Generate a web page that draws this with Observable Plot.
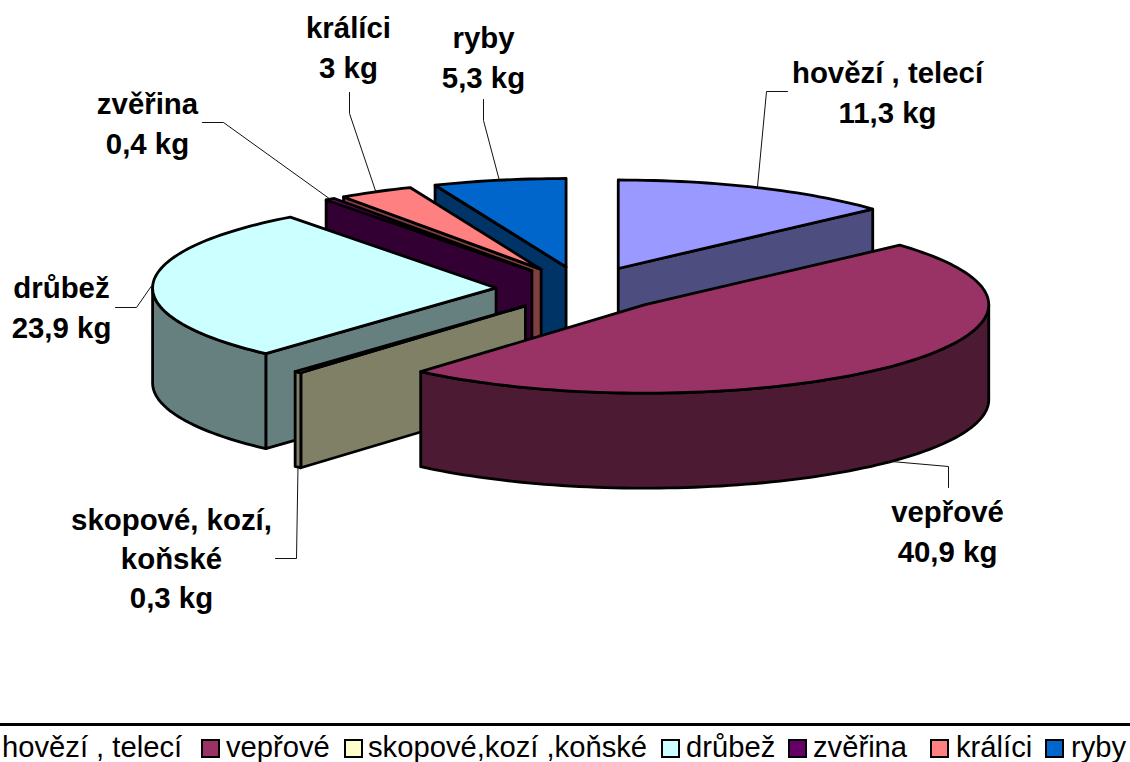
<!DOCTYPE html>
<html lang="cs">
<head>
<meta charset="utf-8">
<script src="https://cdn.jsdelivr.net/npm/d3@7"></script>
<script src="https://cdn.jsdelivr.net/npm/@observablehq/plot@0.6"></script>
<style>
html,body{margin:0;padding:0;background:#fff;overflow:hidden}
#wrap{width:1130px;height:762px;overflow:hidden}
svg{display:block}
#legend{position:relative;width:1130px;height:42px;overflow:hidden;font:29.2px "Liberation Sans",Arial,sans-serif;color:#000}
#legend .rule{position:absolute;left:0;top:3px;width:1130px;height:3px;background:#000}
#legend .sw{position:absolute;top:19px;width:15px;height:15px;border:2.5px solid #000;box-sizing:content-box}
#legend .tx{position:absolute;top:12px;line-height:30px;white-space:nowrap}
</style>
</head>
<body>
<div id="wrap"></div>
<script>
const categories = ["hovězí , telecí","vepřové","skopové,kozí ,koňské","drůbež","zvěřina","králíci","ryby"];
const values = [11.3,40.9,0.3,23.9,0.4,3,5.3];
const labels = ["hovězí , telecí\n11,3 kg","vepřové\n40,9 kg","skopové, kozí,\nkoňské\n0,3 kg","drůbež\n23,9 kg","zvěřina\n0,4 kg","králíci\n3 kg","ryby\n5,3 kg"];
const topColors = ["#9999FF","#993366","#FFFFCC","#CCFFFF","#660066","#FF8080","#0066CC"];
const sideColors = ["#4D4D80","#4D1A33","#808066","#668080","#330033","#804040","#003366"];

// pie layout
const W = 1130, H = 720;
const centre = [582.5, 288.5], rx = 343.5, ry = 88.5, depth = 95, explode = 87;
const paintOrder = [0,6,5,4,3,2,1];
const labelAt = [[887,90],[947,529],[171,556],[61,305],[147,121],[348,45],[483,55]];
const leaderBends = [
  [[766,91],[787,91]],
  [[948,466],[948,487]],
  [[296,558],[275,558]],
  [[136,307],[115,307]],
  [[223,122],[202,122]],
  [[349,113],[349,92]],
  [[483,120],[483,99]]
];
const legendSwatchX = [null,201,344,661,788,930,1045];
const legendTextX = [2,226,368,686,813,956,1071];

const rad = d => d * Math.PI / 180;
const total = d3.sum(values);
let acc = 0;
const slices = values.map((v,i) => {
  const a0 = acc / total * 360; acc += v;
  const a1 = acc / total * 360, mid = (a0 + a1) / 2;
  const ax = centre[0] + explode * Math.sin(rad(mid));
  const ay = centre[1] - explode * Math.cos(rad(mid)) * ry / rx;
  const at = (a, dz = 0) => ({x: ax + rx * Math.sin(rad(a)), y: ay - ry * Math.cos(rad(a)) + dz});
  const arc = (s, e, dz = 0) => { const n = Math.max(2, Math.ceil((e - s) / 1.5)); return d3.range(n + 1).map(k => at(s + (e - s) * k / n, dz)); };
  return {i, a0, a1, mid, apex: {x: ax, y: ay}, at, arc};
});

const marks = [];
const poly = (pts, fill) => marks.push(Plot.line(pts, {x:"x", y:"y", fill, stroke:"#000", strokeWidth:2.8, strokeLinejoin:"round", curve:"linear-closed"}));
for (const i of paintOrder) {
  const s = slices[i], side = sideColors[i], A = s.apex, Ad = {x:A.x, y:A.y+depth};
  if (Math.sin(rad(s.a0)) < 0) poly([A, s.at(s.a0), s.at(s.a0,depth), Ad], side);
  if (Math.sin(rad(s.a1)) > 0) poly([A, s.at(s.a1), s.at(s.a1,depth), Ad], side);
  const f = Math.max(s.a0, 90), t = Math.min(s.a1, 270);
  if (t > f) poly([...s.arc(f,t), ...s.arc(f,t,depth).reverse()], side);
  poly([A, ...s.arc(s.a0, s.a1)], topColors[i]);
}

// leader lines start on the slice's outer edge at its middle angle
slices.forEach((s,i) => {
  const front = s.mid > 90 && s.mid < 270;
  const start = s.at(s.mid, front ? depth : 0);
  const pts = [start, ...leaderBends[i].map(([x,y]) => ({x,y}))];
  marks.push(Plot.line(pts, {x:"x", y:"y", stroke:"#111", strokeWidth:1}));
});

marks.push(Plot.text(labels, {
  x: (d,i) => labelAt[i][0], y: (d,i) => labelAt[i][1], text: d => d,
  fontSize: 29.4, fontWeight: "bold", fontFamily: "'Liberation Sans', Arial, sans-serif",
  fill: "#000", lineHeight: 1.33, textAnchor: "middle", lineAnchor: "middle"
}));

const chart = Plot.plot({
  width: W, height: H, margin: 0,
  x: {domain: [0, W], range: [0, W], axis: null},
  y: {domain: [0, H], range: [0, H], axis: null},
  marks
});
const wrap = document.getElementById("wrap");
wrap.appendChild(chart);

const legend = document.createElement("div");
legend.id = "legend";
legend.innerHTML = '<div class="rule"></div>' + categories.map((c,i) =>
  (legendSwatchX[i] == null ? "" : `<span class="sw" style="left:${legendSwatchX[i]}px;background:${topColors[i]}"></span>`) +
  `<span class="tx" style="left:${legendTextX[i]}px">${c}</span>`).join("");
wrap.appendChild(legend);
</script>
</body>
</html>
